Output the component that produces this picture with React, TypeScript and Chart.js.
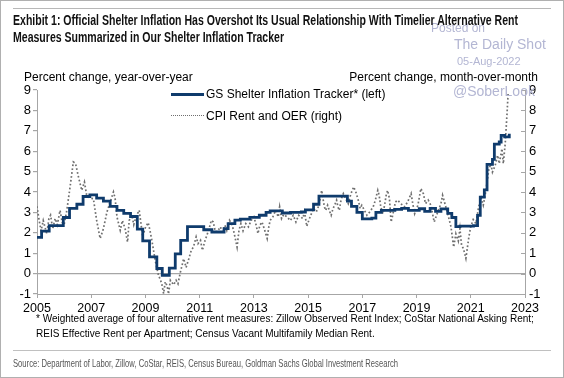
import React, { useEffect, useLayoutEffect, useRef } from 'react';
import { Chart, registerables } from 'chart.js';

Chart.register(...registerables);

// GS Shelter Inflation Tracker (left axis) – plateau start dates (decimal years) and values
const trackerDates = [
  2005.0, 2005.17, 2005.45, 2005.97, 2006.2, 2006.47, 2006.7, 2006.95, 2007.2, 2007.45,
  2007.7, 2007.95, 2008.2, 2008.45, 2008.7, 2008.9, 2009.15, 2009.42, 2009.62, 2009.88,
  2010.1, 2010.3, 2010.55, 2011.15, 2011.45, 2011.9, 2012.05, 2012.3, 2012.5, 2012.85,
  2013.2, 2013.45, 2013.6, 2014.05, 2014.35, 2014.75, 2014.9, 2015.2, 2015.4, 2016.45,
  2016.6, 2016.8, 2017.0, 2017.35, 2017.5, 2017.7, 2018.2, 2018.45, 2018.7, 2019.1,
  2019.3, 2019.5, 2019.7, 2019.9, 2020.15, 2020.3, 2020.45, 2020.6, 2021.1, 2021.25,
  2021.35, 2021.5, 2021.6, 2021.8, 2021.87, 2022.05, 2022.12, 2022.25, 2022.42,
];
const trackerValues = [
  1.78, 2.08, 2.35, 2.75, 3.2, 3.4, 3.78, 3.86, 3.7, 3.55,
  3.3, 3.1, 2.95, 2.8, 2.18, 1.6, 0.82, 0.25, -0.08, 0.27,
  0.97, 1.63, 2.3, 2.15, 2.04, 2.2, 2.45, 2.62, 2.67, 2.76,
  2.86, 3.0, 3.07, 2.97, 3.0, 3.02, 3.12, 3.4, 3.8, 3.55,
  3.3, 3.0, 2.68, 2.72, 3.0, 3.1, 3.15, 3.2, 3.1, 3.18,
  3.05, 3.2, 3.05, 3.17, 2.95, 2.75, 2.3, 2.33, 2.35, 2.85,
  3.75, 4.1, 5.35, 5.6, 6.35, 6.45, 6.78, 6.7, 6.86,
];

// CPI Rent and OER (right axis)
const cpiDates = [
  2005.0, 2005.08, 2005.15, 2005.23, 2005.31, 2005.36, 2005.44, 2005.5, 2005.58, 2005.67,
  2005.75, 2005.85, 2005.93, 2006.0, 2006.1, 2006.22, 2006.34, 2006.42, 2006.53, 2006.65,
  2006.75, 2006.83, 2006.95, 2007.08, 2007.2, 2007.33, 2007.45, 2007.58, 2007.7, 2007.82,
  2007.88, 2007.95, 2008.07, 2008.15, 2008.25, 2008.34, 2008.4, 2008.5, 2008.57, 2008.65,
  2008.77, 2008.9, 2008.98, 2009.1, 2009.17, 2009.24, 2009.36, 2009.48, 2009.55, 2009.6,
  2009.67, 2009.73, 2009.8, 2009.85, 2009.92, 2010.04, 2010.13, 2010.2, 2010.29, 2010.41,
  2010.5, 2010.6, 2010.69, 2010.77, 2010.87, 2010.94, 2011.03, 2011.1, 2011.2, 2011.33,
  2011.43, 2011.5, 2011.58, 2011.68, 2011.77, 2011.83, 2011.93, 2012.0, 2012.1, 2012.18,
  2012.25, 2012.38, 2012.45, 2012.52, 2012.6, 2012.7, 2012.8, 2012.9, 2013.0, 2013.07,
  2013.15, 2013.22, 2013.3, 2013.4, 2013.49, 2013.55, 2013.6, 2013.7, 2013.8, 2013.9,
  2013.95, 2014.02, 2014.1, 2014.22, 2014.35, 2014.45, 2014.55, 2014.65, 2014.8, 2014.87,
  2014.95, 2015.05, 2015.2, 2015.3, 2015.4, 2015.5, 2015.55, 2015.6, 2015.65, 2015.72,
  2015.78, 2015.85, 2015.92, 2016.0, 2016.05, 2016.1, 2016.15, 2016.2, 2016.25, 2016.3,
  2016.38, 2016.48, 2016.58, 2016.68, 2016.76, 2016.85, 2016.92, 2016.98, 2017.08, 2017.17,
  2017.27, 2017.4, 2017.48, 2017.57, 2017.62, 2017.68, 2017.76, 2017.82, 2017.88, 2017.93,
  2018.0, 2018.06, 2018.12, 2018.22, 2018.3, 2018.42, 2018.55, 2018.67, 2018.8, 2018.86,
  2018.93, 2019.05, 2019.16, 2019.25, 2019.33, 2019.43, 2019.53, 2019.65, 2019.78, 2019.9,
  2019.96, 2020.08, 2020.18, 2020.27, 2020.37, 2020.45, 2020.54, 2020.6, 2020.66, 2020.73,
  2020.82, 2020.93, 2021.0, 2021.09, 2021.19, 2021.29, 2021.38, 2021.46, 2021.56, 2021.66,
  2021.74, 2021.8, 2021.9, 2021.99, 2022.05, 2022.15, 2022.2, 2022.27, 2022.33, 2022.38,
];
const cpiValues = [
  3.3, 2.6, 2.1, 2.6, 2.2, 1.96, 2.7, 2.86, 2.2, 2.7,
  2.4, 3.1, 2.5, 2.4, 3.1, 4.25, 5.47, 5.4, 4.74, 4.08,
  4.49, 3.85, 3.7, 3.67, 2.61, 1.72, 2.2, 3.02, 3.51, 4.0,
  3.7, 2.78, 2.12, 2.6, 2.2, 1.55, 2.6, 2.86, 2.4, 2.78,
  3.1, 1.8, 2.2, 2.5, 2.1, 1.6, 0.65, -0.08, -0.3, -0.49,
  -0.98, -0.4, -0.6, -1.0, -0.33, -0.55, -0.33, -0.5, 0.08, 0.73,
  0.3, 0.73, 1.14, 1.3, 1.8, 1.47, 1.63, 1.14, 1.63, 2.12,
  2.61, 2.53, 2.04, 2.12, 2.29, 1.96, 2.37, 2.12, 2.61, 2.45,
  2.12, 1.3, 2.12, 2.45, 2.1, 2.45, 2.29, 2.61, 2.78, 2.45,
  1.96, 2.37, 2.53, 2.12, 1.72, 2.29, 2.61, 2.78, 3.1, 2.78,
  3.27, 2.7, 2.9, 2.78, 2.6, 2.86, 2.53, 2.86, 2.7, 3.02,
  2.32, 2.7, 3.19, 3.02, 3.35, 4.08, 3.67, 3.27, 3.1, 3.35,
  3.1, 2.86, 3.19, 3.43, 3.6, 3.27, 3.1, 3.51, 3.76, 3.92,
  3.68, 3.43, 3.92, 4.25, 4.0, 3.6, 3.19, 3.35, 3.1, 2.86,
  3.02, 3.27, 3.6, 4.08, 3.84, 3.27, 2.94, 3.35, 3.84, 4.08,
  3.68, 2.53, 2.86, 3.51, 3.6, 3.43, 3.27, 3.51, 3.92, 3.43,
  2.94, 3.35, 4.17, 3.92, 3.43, 3.6, 3.35, 2.53, 3.02, 3.43,
  3.84, 3.27, 2.78, 2.29, 1.3, 1.95, 1.6, 2.2, 1.4, 1.22,
  0.75, 1.8, 2.3, 2.65, 2.45, 3.27, 3.7, 3.35, 4.08, 5.06,
  5.39, 4.98, 5.3, 5.8, 5.39, 6.12, 5.39, 6.37, 7.68, 8.9,
];

const xMin = 2005;
const xMax = 2023;
const xStep = 2;
const yMin = -1;
const yMax = 9;

const seriesNames = ['GS Shelter Inflation Tracker* (left)', 'CPI Rent and OER (right)'];
const titleLines = [
  'Exhibit 1: Official Shelter Inflation Has Overshot Its Usual Relationship With Timelier Alternative Rent',
  'Measures Summarized in Our Shelter Inflation Tracker',
];
const leftAxisTitle = 'Percent change, year-over-year';
const rightAxisTitle = 'Percent change, month-over-month';
const footnoteLines = [
  '* Weighted average of four alternative rent measures: Zillow Observed Rent Index; CoStar National Asking Rent;',
  'REIS Effective Rent per Apartment; Census Vacant Multifamily Median Rent.',
];
const sourceText =
  'Source: Department of Labor, Zillow, CoStar, REIS, Census Bureau, Goldman Sachs Global Investment Research';

const NAVY = '#0f3b6c';
const DOT = '#6f6f6f';
const AXIS = '#a6a6a6';
const FONT = 'Arial, "Liberation Sans", sans-serif';
const WM = '#b3b6d3';

// inward tick marks on the right axis
const rightTicksPlugin = {
  id: 'rightTicks',
  afterDraw(chart: any) {
    const s = chart.scales.y1;
    if (!s) return;
    const ctx = chart.ctx;
    ctx.save();
    ctx.strokeStyle = AXIS;
    ctx.lineWidth = 1;
    s.ticks.forEach((t: any) => {
      const y = Math.round(s.getPixelForValue(t.value)) + 0.5;
      ctx.beginPath();
      ctx.moveTo(s.left - 4, y);
      ctx.lineTo(s.left, y);
      ctx.stroke();
    });
    ctx.restore();
  },
};

export default function App() {
  const ref = useRef<HTMLCanvasElement>(null);
  const t1 = useRef<HTMLDivElement>(null);
  const t2 = useRef<HTMLDivElement>(null);
  const src = useRef<HTMLDivElement>(null);

  useLayoutEffect(() => {
    document.body.style.margin = '0';
    const fit = (el: HTMLDivElement | null, target: number) => {
      if (!el) return 1;
      const w = el.getBoundingClientRect().width;
      return w > 0 ? target / w : 1;
    };
    const s = fit(t1.current, 505);
    [t1.current, t2.current].forEach((el) => {
      if (el) { el.style.transform = `scaleX(${s})`; el.style.transformOrigin = '0 0'; }
    });
    const s2 = fit(src.current, 385);
    if (src.current) { src.current.style.transform = `scaleX(${s2})`; src.current.style.transformOrigin = '0 0'; }
  }, []);

  useEffect(() => {
    const tracker = trackerDates.map((d, i) => ({ x: d, y: trackerValues[i] }));
    const cpi = cpiDates.map((d, i) => ({ x: d, y: cpiValues[i] }));
    const chart = new Chart(ref.current as HTMLCanvasElement, {
      type: 'line',
      data: {
        datasets: [
          {
            label: seriesNames[0],
            data: tracker,
            yAxisID: 'y',
            borderColor: NAVY,
            borderWidth: 2.8,
            pointRadius: 0,
            stepped: 'before',
            fill: false,
          },
          {
            label: seriesNames[1],
            data: cpi,
            yAxisID: 'y1',
            borderColor: DOT,
            borderWidth: 1.7,
            borderDash: [1.7, 2.2],
            pointRadius: 0,
            tension: 0,
            fill: false,
          },
        ],
      },
      plugins: [rightTicksPlugin],
      options: {
        animation: false,
        responsive: false,
        devicePixelRatio: 1,
        layout: { padding: { top: 90, left: 0, right: 0, bottom: 64 } },
        plugins: { legend: { display: false }, tooltip: { enabled: false }, title: { display: false } },
        scales: {
          x: {
            type: 'linear',
            min: xMin,
            max: xMax,
            afterFit: (s: any) => { s.height = 20; },
            ticks: {
              stepSize: xStep,
              autoSkip: false,
              maxRotation: 0,
              padding: 3,
              color: '#000',
              font: { family: FONT, size: 12.5 },
              callback: (v: any) => String(v),
            },
            grid: { drawOnChartArea: false, tickLength: 4, color: AXIS },
            border: { display: true, color: AXIS },
          },
          y: {
            position: 'left',
            min: yMin,
            max: yMax,
            afterFit: (s: any) => { s.width = 37; },
            ticks: { stepSize: 1, padding: 2, color: '#000', font: { family: FONT, size: 13 } },
            grid: {
              drawOnChartArea: true,
              tickLength: 4,
              color: (ctx: any) => (ctx.tick && ctx.tick.value === 0 ? AXIS : 'rgba(0,0,0,0)'),
              tickColor: AXIS,
              lineWidth: 1.2,
            },
            border: { display: true, color: AXIS },
          },
          y1: {
            position: 'right',
            min: yMin,
            max: yMax,
            afterFit: (s: any) => { s.width = 39; },
            ticks: { stepSize: 1, padding: 4, color: '#000', font: { family: FONT, size: 13 } },
            grid: { drawOnChartArea: false, drawTicks: false, tickLength: 0, color: AXIS },
            border: { display: true, color: AXIS },
          },
        },
      },
    });
    return () => chart.destroy();
  }, []);

  const abs = (extra: React.CSSProperties): React.CSSProperties => ({
    position: 'absolute',
    whiteSpace: 'nowrap',
    lineHeight: 1,
    ...extra,
  });

  return (
    <div
      style={{
        position: 'relative',
        width: 564,
        height: 378,
        background: '#fff',
        overflow: 'hidden',
        fontFamily: FONT,
        boxSizing: 'border-box',
        border: '1px solid #b0b0b0',
      }}
    >
      <canvas ref={ref} width={564} height={378} style={{ position: 'absolute', left: -1, top: -1 }} />
      <div style={abs({ left: 12, top: 7, width: 538, height: 0, borderTop: '1px solid #b8b8b8' })} />
      {/* watermark */}
      <div style={abs({ left: 430, top: 21, fontSize: 12, color: WM })}>Posted on</div>
      <div style={abs({ left: 453, top: 36, fontSize: 14, color: WM })}>The Daily Shot</div>
      <div style={abs({ left: 456, top: 55, fontSize: 11, color: WM })}>05-Aug-2022</div>
      {/* title */}
      <div ref={t1} style={abs({ left: 12, top: 12, fontWeight: 'bold', fontSize: 14.5, color: '#111' })}>{titleLines[0]}</div>
      <div ref={t2} style={abs({ left: 12, top: 29, fontWeight: 'bold', fontSize: 14.5, color: '#111' })}>{titleLines[1]}</div>
      {/* axis titles */}
      <div style={abs({ left: 23, top: 70, fontSize: 12, color: '#000' })}>{leftAxisTitle}</div>
      <div style={abs({ right: 25, top: 70, fontSize: 12, color: '#000' })}>{rightAxisTitle}</div>
      <div style={abs({ left: 452, top: 83, fontSize: 14, color: WM })}>@SoberLook</div>
      {/* legend */}
      <div style={abs({ left: 170, top: 92, width: 33, height: 0, borderTop: `3px solid ${NAVY}` })} />
      <div style={abs({ left: 205, top: 87, fontSize: 12, color: '#000' })}>{seriesNames[0]}</div>
      <div style={abs({ left: 170, top: 114, width: 33, height: 0, borderTop: `1.7px dotted ${DOT}` })} />
      <div style={abs({ left: 205, top: 109, fontSize: 12, color: '#000' })}>{seriesNames[1]}</div>
      {/* footnote */}
      <div style={abs({ left: 35, top: 313, fontSize: 10, color: '#000' })}>{footnoteLines[0]}</div>
      <div style={abs({ left: 35, top: 328, fontSize: 10, color: '#000' })}>{footnoteLines[1]}</div>
      <div style={abs({ left: 12, top: 349, width: 538, height: 0, borderTop: '1px solid #c0c0c0' })} />
      <div ref={src} style={abs({ left: 12, top: 357, fontSize: 11.5, color: '#555' })}>{sourceText}</div>
    </div>
  );
}
